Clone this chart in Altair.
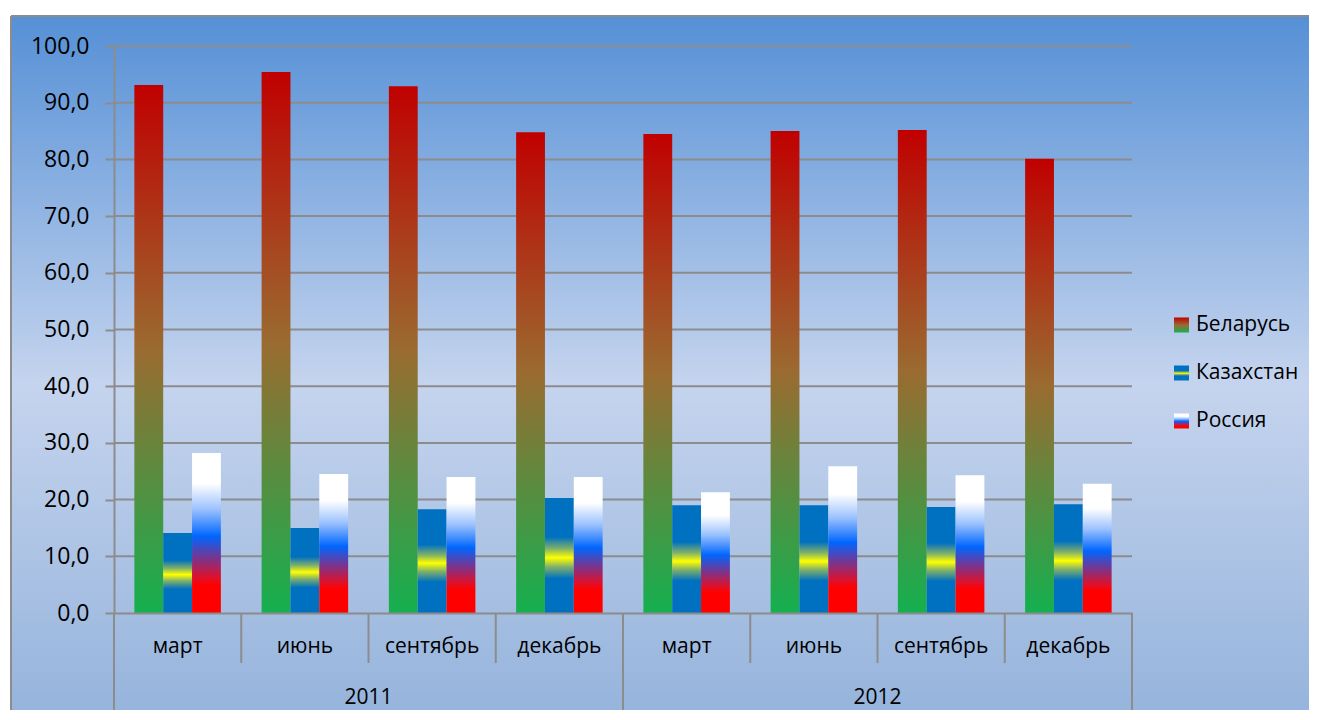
import altair as alt
import pandas as pd

years = ["2011"] * 4 + ["2012"] * 4
months = ["март", "июнь", "сентябрь", "декабрь"] * 2
series = ["Беларусь", "Казахстан", "Россия"]
belarus = [93.1, 95.4, 92.9, 84.8, 84.5, 85.0, 85.2, 80.1]
kazakhstan = [14.1, 15.0, 18.3, 20.3, 19.0, 19.0, 18.7, 19.2]
russia = [28.2, 24.5, 24.0, 24.0, 21.3, 25.9, 24.3, 22.8]
yticks = list(range(0, 101, 10))

keys = [f"{y}|{m}" for y, m in zip(years, months)]
rows = []
for s, vals in zip(series, [belarus, kazakhstan, russia]):
    for k, y, m, v in zip(keys, years, months, vals):
        rows.append({"key": k, "year": y, "month": m, "series": s, "value": v})
df = pd.DataFrame(rows)
cat = pd.DataFrame({"key": keys, "year": years, "month": months})
grid_df = pd.DataFrame({"value": yticks[1:]})

W, H = 1018, 567
LEG_W = 135
SPACING = 42
GRID = "#8c8c8c"
FONT = "Open Sans"
FS = 21


def grad(stops):
    return alt.LinearGradient(
        gradient="linear",
        stops=[alt.GradientStop(color=c, offset=o) for o, c in stops],
        x1=0, x2=0, y1=0, y2=1,
    )


gradients = {
    "Беларусь": grad([(0, "#c00000"), (0.5, "#9a6b30"), (1, "#14b050")]),
    "Казахстан": grad([(0, "#0070c0"), (0.34, "#0070c0"), (0.44, "#7fb06a"),
                       (0.52, "#ffff00"), (0.6, "#7fb06a"), (0.7, "#0070c0"),
                       (1, "#0070c0")]),
    "Россия": grad([(0, "#ffffff"), (0.19, "#ffffff"), (0.35, "#9cc2ff"),
                    (0.52, "#0066ff"), (0.64, "#6a3a9c"), (0.78, "#e0102a"),
                    (0.83, "#ff0000"), (1, "#ff0000")]),
}
bg_grad = alt.LinearGradient(
    gradient="linear",
    stops=[alt.GradientStop(color="#5590d6", offset=0),
           alt.GradientStop(color="#c5d4ee", offset=0.53),
           alt.GradientStop(color="#96b4dc", offset=1)],
    x1=0, x2=0, y1=0, y2=1,
)

x_axis = alt.Axis(title=None, labelExpr="split(datum.value, '|')[1]", ticks=False,
                  domainColor=GRID, domainWidth=2, labelFontSize=FS, labelFont=FONT,
                  labelColor="black", labelPadding=33, labelBaseline="middle",
                  labelAngle=0, grid=False, zindex=1)
x_scale = alt.Scale(domain=keys, paddingInner=0, paddingOuter=0)


def xenc(band=0.5):
    return alt.X("key:N", sort=keys, scale=x_scale, axis=x_axis, bandPosition=band)


y_scale = alt.Scale(domain=[0, 100], nice=False)
y_axis = alt.Axis(values=yticks,
                  labelExpr="replace(format(datum.value, '.1f'), '.', ',')",
                  title=None, grid=False, domainColor=GRID, domainWidth=2,
                  tickColor=GRID, tickWidth=2, tickSize=9, labelPadding=16,
                  labelFontSize=FS + 2, labelFont=FONT, labelColor="black", zindex=1)
y_enc = alt.Y("value:Q", scale=y_scale, axis=y_axis)

RIGHT = W + SPACING + LEG_W
BOTTOM = H + 97

bg = alt.Chart(alt.Data(values=[{}])).mark_rect(color=bg_grad).encode(
    x=alt.value(-103), x2=alt.value(RIGHT), y=alt.value(-30), y2=alt.value(BOTTOM)
)
border_top = alt.Chart(alt.Data(values=[{}])).mark_rule(color=GRID, strokeWidth=2).encode(
    x=alt.value(-103), x2=alt.value(RIGHT), y=alt.value(-30)
)
border_left = alt.Chart(alt.Data(values=[{}])).mark_rule(color=GRID, strokeWidth=2).encode(
    x=alt.value(-103), y=alt.value(-30), y2=alt.value(BOTTOM)
)

gridlines = alt.Chart(grid_df).mark_rule(color=GRID, strokeWidth=2).encode(
    y=y_enc, x=alt.value(0), x2=alt.value(W)
)

bars = []
for s in series:
    bars.append(
        alt.Chart(df).transform_filter(alt.datum.series == s)
        .mark_bar(color=gradients[s])
        .encode(
            x=xenc(),
            xOffset=alt.XOffset("series:N", scale=alt.Scale(domain=series, paddingInner=0,
                                                            paddingOuter=0.706)),
            y=y_enc,
        )
    )

short_rules = alt.Chart(cat).transform_filter(alt.datum.month != "март").mark_rule(
    color=GRID, strokeWidth=2
).encode(x=xenc(0), y=alt.value(H), y2=alt.value(H + 50))

long_rules = alt.Chart(cat).transform_filter(alt.datum.month == "март").mark_rule(
    color=GRID, strokeWidth=2
).encode(x=xenc(0), y=alt.value(H), y2=alt.value(BOTTOM))

end_rule = alt.Chart(cat).transform_filter(alt.datum.key == keys[-1]).mark_rule(
    color=GRID, strokeWidth=2
).encode(x=xenc(1), y=alt.value(H), y2=alt.value(BOTTOM))

year_text = alt.Chart(cat).transform_filter(alt.datum.month == "сентябрь").mark_text(
    font=FONT, fontSize=FS, color="black", baseline="middle", align="center"
).encode(x=xenc(0), y=alt.value(H + 85), text="year:N")

main = alt.layer(bg, border_top, border_left, gridlines, *bars, short_rules, long_rules,
                 end_rule, year_text).properties(width=W, height=H)

leg = pd.DataFrame({"series": series})
y_leg = alt.Y("series:N", sort=series,
              scale=alt.Scale(domain=series, range=[255, 399], paddingInner=0.6875,
                              paddingOuter=0.34375),
              axis=None)
leg_layers = []
for s in series:
    leg_layers.append(
        alt.Chart(leg).transform_filter(alt.datum.series == s)
        .mark_rect(color=gradients[s])
        .encode(x=alt.value(0), x2=alt.value(15), y=y_leg)
    )
leg_text = alt.Chart(leg).mark_text(
    align="left", baseline="middle", font=FONT, fontSize=FS, color="black"
).encode(x=alt.value(22), y=y_leg, text="series:N")
legend = alt.layer(*leg_layers, leg_text).properties(width=LEG_W, height=H)

chart = alt.hconcat(main, legend, spacing=SPACING, bounds="flush").properties(
    padding={"left": 2, "top": 7, "right": 0, "bottom": 0}, background="white"
).configure_view(stroke=None)

chart.save("out.html", embed_options={"renderer": "svg", "actions": False})
